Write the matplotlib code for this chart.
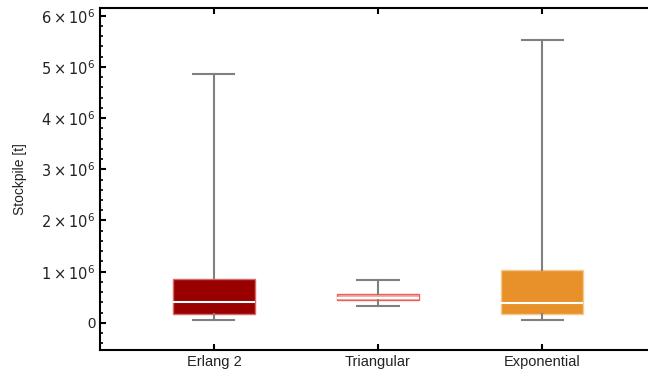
import numpy as np
import matplotlib.pyplot as plt
from matplotlib.ticker import MultipleLocator, AutoMinorLocator, FuncFormatter

plt.rcParams['font.family'] = ['Liberation Sans', 'DejaVu Sans']

labels = ["Erlang 2", "Triangular", "Exponential"]
whislo = [0.06e6, 0.33e6, 0.06e6]
q1 = [0.17e6, 0.44e6, 0.17e6]
med = [0.405e6, 0.49e6, 0.39e6]
q3 = [0.85e6, 0.56e6, 1.03e6]
whishi = [4.86e6, 0.84e6, 5.53e6]

face_colors = ["#990000", "#f4a9a3", "#e8912a"]
edge_colors = ["#d66a6a", "#e8625c", "#f5c98f"]

stats = []
for i in range(len(labels)):
    stats.append({"label": labels[i], "whislo": whislo[i], "q1": q1[i],
                  "med": med[i], "q3": q3[i], "whishi": whishi[i], "fliers": []})

fig = plt.figure(figsize=(6.48, 3.77), dpi=100)
ax = fig.add_axes([100/648, 1 - 350/377, 556/648, 342/377])

bp = ax.bxp(stats, positions=[1, 2, 3], widths=0.5, patch_artist=True,
            showfliers=False,
            whiskerprops=dict(color="#808080", linewidth=1.5),
            capprops=dict(color="#808080", linewidth=1.5),
            medianprops=dict(color="white", linewidth=1.5),
            capwidths=0.25)
for patch, fc, ec in zip(bp["boxes"], face_colors, edge_colors):
    patch.set_facecolor(fc)
    patch.set_edgecolor(ec)
    patch.set_linewidth(1.0)

ax.set_xlim(0.305, 3.695)
ax.set_ylim(-0.53e6, 6.15e6)

ax.yaxis.set_major_locator(MultipleLocator(1e6))
ax.yaxis.set_minor_locator(AutoMinorLocator(5))

def fmt(v, pos):
    if abs(v) < 1:
        return "0"
    return r"$%d\times10^{6}$" % round(v / 1e6)

ax.yaxis.set_major_formatter(FuncFormatter(fmt))
ax.set_xticks([1, 2, 3])
ax.set_xticklabels(labels)

ax.tick_params(axis="both", which="both", direction="in", labelsize=10.5,
               labelcolor="#222222")
ax.tick_params(axis="x", top=True, length=4, width=1.5)
ax.tick_params(axis="y", which="major", length=4, width=1.5)
ax.tick_params(axis="y", which="minor", length=2.5, width=1.2)
for s in ax.spines.values():
    s.set_linewidth(1.5)

ax.set_ylabel("Stockpile [t]", fontsize=10, labelpad=10, color="#222222")

fig.savefig("out.png", dpi=100)
